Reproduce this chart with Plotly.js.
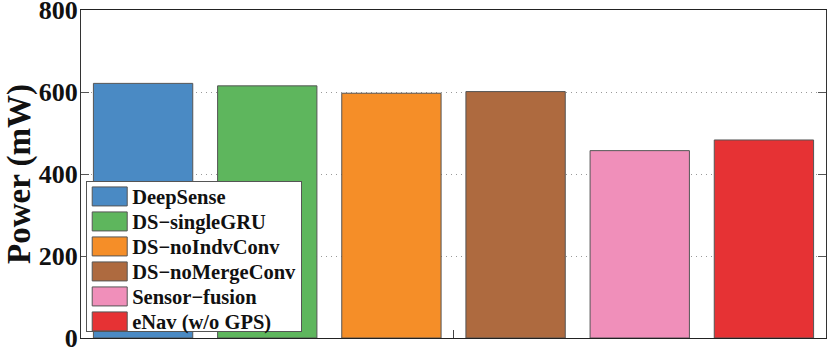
<!DOCTYPE html>
<html>
<head>
<meta charset="utf-8">
<script src="https://cdn.plot.ly/plotly-3.0.1.min.js"></script>
<style>
  html, body { margin: 0; padding: 0; background: #fff; }
  #chart { width: 830px; height: 350px; }
</style>
</head>
<body>
<div id="chart"></div>
<script>
var methods = ['DeepSense', 'DS\u2212singleGRU', 'DS\u2212noIndvConv', 'DS\u2212noMergeConv', 'Sensor\u2212fusion', 'eNav (w/o GPS)'];
var power = [621, 615, 597, 601, 457, 483];
var colors = ['#4A8AC4', '#5EB65D', '#F58E28', '#AE6A3F', '#F08FBA', '#E63234'];
var yLabel = 'Power (mW)';

var traces = methods.map(function (name, i) {
  return {
    x: [i + 1],
    y: [power[i]],
    name: name,
    type: 'bar',
    width: 0.8,
    marker: { color: colors[i], line: { color: '#555', width: 1 } },
    hoverinfo: 'none'
  };
});

var serif = '"Liberation Serif", "Times New Roman", serif';

var layout = {
  width: 830,
  height: 350,
  margin: { l: 81, r: 4, t: 10, b: 12 },
  paper_bgcolor: '#fff',
  plot_bgcolor: '#fff',
  barmode: 'overlay',
  showlegend: true,
  font: { family: serif, color: '#111' },
  xaxis: {
    range: [0.5, 6.5],
    tickvals: [3.5],
    showticklabels: false,
    ticks: 'inside',
    ticklen: 8,
    tickcolor: '#444',
    showgrid: false,
    zeroline: false,
    showline: true,
    linecolor: '#222',
    linewidth: 1,
    mirror: true
  },
  yaxis: {
    range: [0, 800],
    tickvals: [0, 200, 400, 600, 800],
    ticks: 'inside',
    ticklen: 8,
    tickcolor: '#555',
    ticklabeloverflow: 'allow',
    ticklabelstandoff: -3,
    tickfont: { family: serif, size: 26, color: '#111', weight: 'bold' },
    showgrid: true,
    gridcolor: '#999',
    griddash: '1px,4px',
    gridwidth: 1,
    zeroline: false,
    showline: true,
    linecolor: '#333',
    linewidth: 1,
    mirror: 'ticks'
  },
  // y axis title as an annotation so it can sit close to the left edge
  annotations: [{
    text: yLabel,
    xref: 'paper', yref: 'paper',
    x: 0, y: 0.5,
    xshift: -62,
    xanchor: 'center', yanchor: 'middle',
    textangle: -90,
    showarrow: false,
    font: { family: serif, size: 33, color: '#111', weight: 'bold' }
  }],
  legend: {
    x: 0.007,
    y: 0.017,
    xanchor: 'left',
    yanchor: 'bottom',
    bgcolor: '#fff',
    bordercolor: '#555',
    borderwidth: 1,
    itemwidth: 35,
    tracegroupgap: 0,
    font: { family: serif, size: 20.5, color: '#111', weight: 'bold' }
  }
};

Plotly.newPlot('chart', traces, layout, { displayModeBar: false, staticPlot: true }).then(function (gd) {
  // wide swatches, as in the original figure
  gd.querySelectorAll('.legend .legendpoints path').forEach(function (p) {
    p.setAttribute('d', 'M17.5,9.5H-17.5V-9.5H17.5Z');
  });

  // tighten the legend rows to 25px, keeping the bottom edge where it is
  var leg = gd.querySelector('.legend');
  var items = leg.querySelectorAll('.traces');
  var rowStep = 25, topPad = 15.5, bottomPad = 10;
  var parse = function (el) {
    var m = /translate\(([-\d.]+)[ ,]+([-\d.]+)\)/.exec(el.getAttribute('transform') || '');
    return m ? [parseFloat(m[1]), parseFloat(m[2])] : [0, 0];
  };
  items.forEach(function (it, i) {
    var p = parse(it);
    it.setAttribute('transform', 'translate(' + p[0] + ',' + (topPad + i * rowStep) + ')');
  });
  var bg = leg.querySelector('rect.bg');
  var oldH = parseFloat(bg.getAttribute('height'));
  var newH = topPad + (items.length - 1) * rowStep + bottomPad;
  bg.setAttribute('height', newH);
  var lp = parse(leg);
  leg.setAttribute('transform', 'translate(' + lp[0] + ',' + (lp[1] + oldH - newH) + ')');
});
</script>
</body>
</html>
